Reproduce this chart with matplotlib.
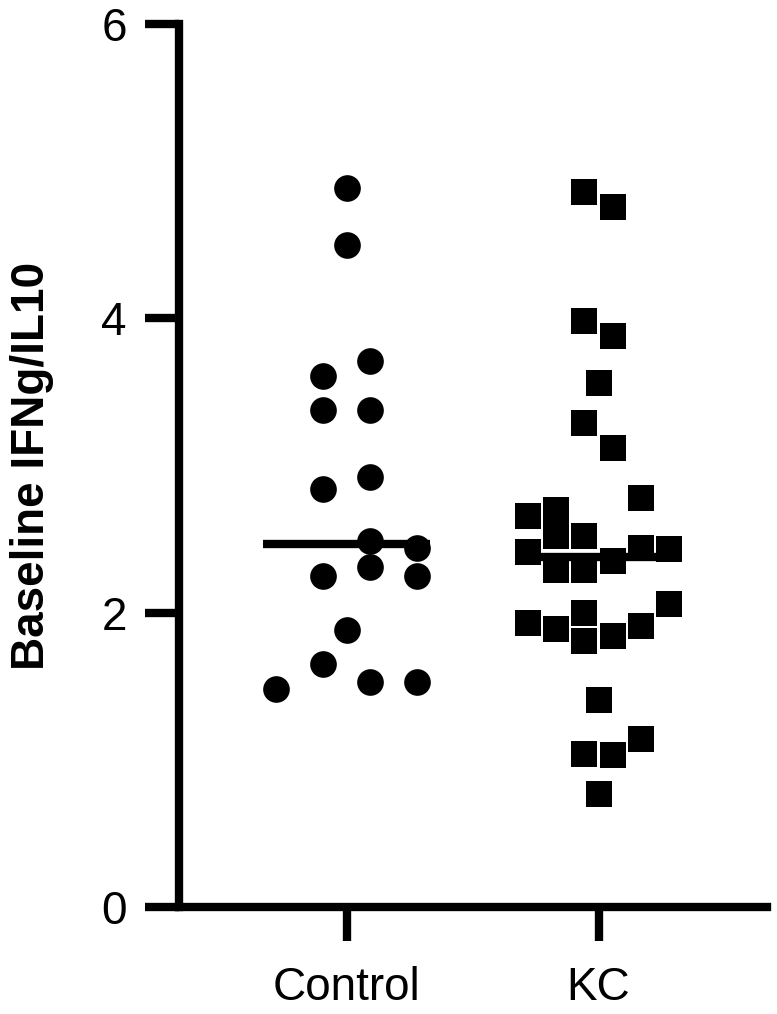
import matplotlib
matplotlib.use("Agg")
import matplotlib.pyplot as plt
import numpy as np

plt.rcParams['font.family'] = ['Liberation Sans', 'DejaVu Sans']

# ---- data ----
categories = ["Control", "KC"]
control_values = [4.89, 4.50, 3.71, 3.61, 3.38, 3.38, 2.92, 2.84, 2.49, 2.44,
                  2.31, 2.25, 2.25, 1.88, 1.65, 1.53, 1.53, 1.48]
control_slot = [0, 0, 1, -1, -1, 1, 1, -1, 1, 3, 1, -1, 3, 0, -1, 1, 3, -3]
kc_values = [4.86, 4.76, 3.98, 3.88, 3.56, 3.29, 3.12, 2.78, 2.70, 2.66,
             2.52, 2.52, 2.44, 2.43, 2.41, 2.35, 2.29, 2.29, 2.06, 2.00,
             1.93, 1.91, 1.89, 1.84, 1.81, 1.41, 1.14, 1.04, 1.03, 0.77]
kc_slot = [-1, 1, -1, 1, 0, -1, 1, 3, -3, -5, -1, -3, 3, 5, -5, 1, -3, -1, 5, -1,
           -5, 3, -3, 1, -1, 0, 3, -1, 1, 0]
yticks = [0, 2, 4, 6]
ylabel = "Baseline IFNg/IL10"

# ---- figure ----
fig = plt.figure(figsize=(7.77, 10.14), dpi=100)
ax = fig.add_axes([0.2304, 0.1055, 0.9867 - 0.2304, 0.9761 - 0.1055])

lw = 6.0
ms = 19.2
ctrl_step = 0.0933
kc_step = 0.056
half = 0.33

xc = 0 + np.array(control_slot) * ctrl_step
xk = 1 + np.array(kc_slot) * kc_step

ax.plot(xc, control_values, linestyle='none', marker='o', ms=ms,
        color='black', mew=0, zorder=3, clip_on=False)
ax.plot(xk, kc_values, linestyle='none', marker='s', ms=ms,
        color='black', mew=0, zorder=3, clip_on=False)

for i, vals in enumerate([control_values, kc_values]):
    m = np.median(vals)
    ax.plot([i - half, i + half], [m, m], color='black', lw=lw,
             solid_capstyle='butt', zorder=2)

ax.set_xlim(-0.665, 1.667)
ax.set_ylim(0, 6)
ax.set_xticks([0, 1])
ax.set_xticklabels(categories)
ax.set_yticks(yticks)
ax.set_yticklabels([str(t) for t in yticks])

for s in ['top', 'right']:
    ax.spines[s].set_visible(False)
for s in ['left', 'bottom']:
    ax.spines[s].set_linewidth(lw)
    ax.spines[s].set_capstyle('projecting')

ax.tick_params(axis='both', length=24.5, width=lw, color='black',
               labelsize=33, direction='out')
ax.tick_params(axis='y', pad=13)
ax.tick_params(axis='x', pad=18)

ax.set_ylabel(ylabel, fontsize=33, fontweight='bold')
ax.yaxis.set_label_coords(-0.212, 0.5)

fig.savefig("out.png", dpi=100)
